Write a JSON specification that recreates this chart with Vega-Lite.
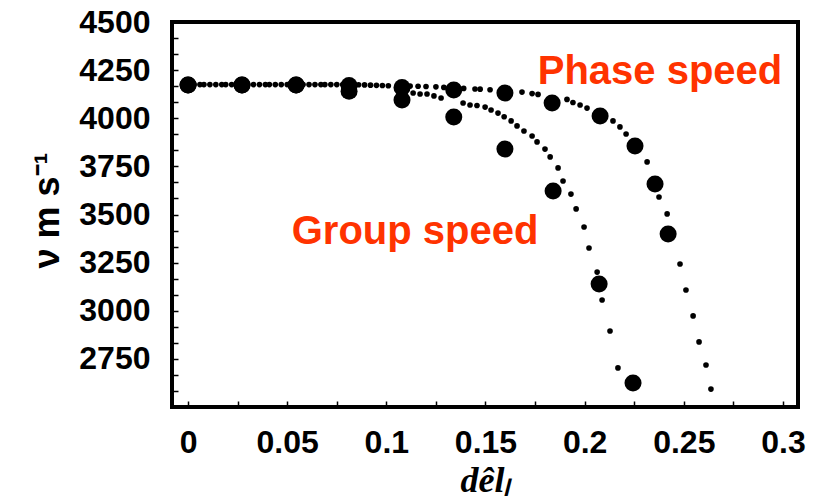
{
  "$schema": "https://vega.github.io/schema/vega-lite/v6.json",
  "width": 626,
  "height": 385,
  "autosize": "none",
  "padding": {"left": 172, "top": 22, "right": 20, "bottom": 97},
  "background": "white",
  "config": {
    "view": {"stroke": "black", "strokeWidth": 4},
    "axis": {"domain": false, "grid": false, "labelFont": "Liberation Sans", "labelFontWeight": "bold", "labelFontSize": 32, "labelColor": "black", "labelOverlap": false, "labelBound": false, "tickColor": "black", "tickWidth": 1.5, "tickSize": -6, "titleColor": "black"}
  },
  "datasets": {
    "points": [
      {"series": "Phase speed", "kind": "simulation", "x": 0.0, "v": 4173},
      {"series": "Phase speed", "kind": "simulation", "x": 0.0272, "v": 4173},
      {"series": "Phase speed", "kind": "simulation", "x": 0.0545, "v": 4173},
      {"series": "Phase speed", "kind": "simulation", "x": 0.0812, "v": 4170},
      {"series": "Phase speed", "kind": "simulation", "x": 0.1079, "v": 4160},
      {"series": "Phase speed", "kind": "simulation", "x": 0.134, "v": 4147},
      {"series": "Phase speed", "kind": "simulation", "x": 0.1598, "v": 4131},
      {"series": "Phase speed", "kind": "simulation", "x": 0.1836, "v": 4079},
      {"series": "Phase speed", "kind": "simulation", "x": 0.2078, "v": 4012},
      {"series": "Phase speed", "kind": "simulation", "x": 0.2254, "v": 3856},
      {"series": "Phase speed", "kind": "simulation", "x": 0.2355, "v": 3658},
      {"series": "Phase speed", "kind": "simulation", "x": 0.2421, "v": 3399},
      {"series": "Group speed", "kind": "simulation", "x": 0.0, "v": 4173},
      {"series": "Group speed", "kind": "simulation", "x": 0.0272, "v": 4173},
      {"series": "Group speed", "kind": "simulation", "x": 0.0545, "v": 4173},
      {"series": "Group speed", "kind": "simulation", "x": 0.0812, "v": 4140},
      {"series": "Group speed", "kind": "simulation", "x": 0.1079, "v": 4095},
      {"series": "Group speed", "kind": "simulation", "x": 0.134, "v": 4006},
      {"series": "Group speed", "kind": "simulation", "x": 0.1598, "v": 3840},
      {"series": "Group speed", "kind": "simulation", "x": 0.1841, "v": 3622},
      {"series": "Group speed", "kind": "simulation", "x": 0.2073, "v": 3139},
      {"series": "Group speed", "kind": "simulation", "x": 0.2244, "v": 2625},
      {"series": "Phase speed", "kind": "theory", "x": 0.003, "v": 4175},
      {"series": "Phase speed", "kind": "theory", "x": 0.006, "v": 4175},
      {"series": "Phase speed", "kind": "theory", "x": 0.008, "v": 4175},
      {"series": "Phase speed", "kind": "theory", "x": 0.011, "v": 4175},
      {"series": "Phase speed", "kind": "theory", "x": 0.014, "v": 4175},
      {"series": "Phase speed", "kind": "theory", "x": 0.017, "v": 4175},
      {"series": "Phase speed", "kind": "theory", "x": 0.019, "v": 4175},
      {"series": "Phase speed", "kind": "theory", "x": 0.022, "v": 4175},
      {"series": "Phase speed", "kind": "theory", "x": 0.025, "v": 4175},
      {"series": "Phase speed", "kind": "theory", "x": 0.030, "v": 4175},
      {"series": "Phase speed", "kind": "theory", "x": 0.033, "v": 4175},
      {"series": "Phase speed", "kind": "theory", "x": 0.036, "v": 4175},
      {"series": "Phase speed", "kind": "theory", "x": 0.039, "v": 4175},
      {"series": "Phase speed", "kind": "theory", "x": 0.041, "v": 4175},
      {"series": "Phase speed", "kind": "theory", "x": 0.044, "v": 4175},
      {"series": "Phase speed", "kind": "theory", "x": 0.047, "v": 4175},
      {"series": "Phase speed", "kind": "theory", "x": 0.050, "v": 4175},
      {"series": "Phase speed", "kind": "theory", "x": 0.058, "v": 4175},
      {"series": "Phase speed", "kind": "theory", "x": 0.061, "v": 4175},
      {"series": "Phase speed", "kind": "theory", "x": 0.064, "v": 4175},
      {"series": "Phase speed", "kind": "theory", "x": 0.067, "v": 4175},
      {"series": "Phase speed", "kind": "theory", "x": 0.069, "v": 4175},
      {"series": "Phase speed", "kind": "theory", "x": 0.072, "v": 4175},
      {"series": "Phase speed", "kind": "theory", "x": 0.075, "v": 4175},
      {"series": "Phase speed", "kind": "theory", "x": 0.078, "v": 4175},
      {"series": "Phase speed", "kind": "theory", "x": 0.084, "v": 4174},
      {"series": "Phase speed", "kind": "theory", "x": 0.086, "v": 4174},
      {"series": "Phase speed", "kind": "theory", "x": 0.089, "v": 4173},
      {"series": "Phase speed", "kind": "theory", "x": 0.092, "v": 4172},
      {"series": "Phase speed", "kind": "theory", "x": 0.095, "v": 4171},
      {"series": "Phase speed", "kind": "theory", "x": 0.098, "v": 4170},
      {"series": "Phase speed", "kind": "theory", "x": 0.101, "v": 4169},
      {"series": "Phase speed", "kind": "theory", "x": 0.112, "v": 4167},
      {"series": "Phase speed", "kind": "theory", "x": 0.116, "v": 4166},
      {"series": "Phase speed", "kind": "theory", "x": 0.120, "v": 4165},
      {"series": "Phase speed", "kind": "theory", "x": 0.125, "v": 4163},
      {"series": "Phase speed", "kind": "theory", "x": 0.129, "v": 4160},
      {"series": "Phase speed", "kind": "theory", "x": 0.139, "v": 4155},
      {"series": "Phase speed", "kind": "theory", "x": 0.1447, "v": 4152},
      {"series": "Phase speed", "kind": "theory", "x": 0.1473, "v": 4151},
      {"series": "Phase speed", "kind": "theory", "x": 0.1523, "v": 4148},
      {"series": "Phase speed", "kind": "theory", "x": 0.1684, "v": 4136},
      {"series": "Phase speed", "kind": "theory", "x": 0.1735, "v": 4128},
      {"series": "Phase speed", "kind": "theory", "x": 0.1765, "v": 4124},
      {"series": "Phase speed", "kind": "theory", "x": 0.1911, "v": 4098},
      {"series": "Phase speed", "kind": "theory", "x": 0.1941, "v": 4082},
      {"series": "Phase speed", "kind": "theory", "x": 0.1977, "v": 4069},
      {"series": "Phase speed", "kind": "theory", "x": 0.2012, "v": 4053},
      {"series": "Phase speed", "kind": "theory", "x": 0.2143, "v": 3986},
      {"series": "Phase speed", "kind": "theory", "x": 0.2178, "v": 3955},
      {"series": "Phase speed", "kind": "theory", "x": 0.2209, "v": 3918},
      {"series": "Phase speed", "kind": "theory", "x": 0.2315, "v": 3773},
      {"series": "Phase speed", "kind": "theory", "x": 0.2375, "v": 3591},
      {"series": "Phase speed", "kind": "theory", "x": 0.2416, "v": 3503},
      {"series": "Phase speed", "kind": "theory", "x": 0.2481, "v": 3243},
      {"series": "Phase speed", "kind": "theory", "x": 0.2511, "v": 3108},
      {"series": "Phase speed", "kind": "theory", "x": 0.2547, "v": 2973},
      {"series": "Phase speed", "kind": "theory", "x": 0.2577, "v": 2838},
      {"series": "Phase speed", "kind": "theory", "x": 0.2612, "v": 2718},
      {"series": "Phase speed", "kind": "theory", "x": 0.2637, "v": 2593},
      {"series": "Group speed", "kind": "theory", "x": 0.1135, "v": 4131},
      {"series": "Group speed", "kind": "theory", "x": 0.117, "v": 4126},
      {"series": "Group speed", "kind": "theory", "x": 0.1205, "v": 4126},
      {"series": "Group speed", "kind": "theory", "x": 0.124, "v": 4116},
      {"series": "Group speed", "kind": "theory", "x": 0.1276, "v": 4105},
      {"series": "Group speed", "kind": "theory", "x": 0.1387, "v": 4079},
      {"series": "Group speed", "kind": "theory", "x": 0.1422, "v": 4069},
      {"series": "Group speed", "kind": "theory", "x": 0.1457, "v": 4066},
      {"series": "Group speed", "kind": "theory", "x": 0.1498, "v": 4058},
      {"series": "Group speed", "kind": "theory", "x": 0.1528, "v": 4043},
      {"series": "Group speed", "kind": "theory", "x": 0.1563, "v": 4027},
      {"series": "Group speed", "kind": "theory", "x": 0.1594, "v": 4008},
      {"series": "Group speed", "kind": "theory", "x": 0.1629, "v": 3986},
      {"series": "Group speed", "kind": "theory", "x": 0.1659, "v": 3960},
      {"series": "Group speed", "kind": "theory", "x": 0.1694, "v": 3934},
      {"series": "Group speed", "kind": "theory", "x": 0.1735, "v": 3908},
      {"series": "Group speed", "kind": "theory", "x": 0.176, "v": 3877},
      {"series": "Group speed", "kind": "theory", "x": 0.18, "v": 3840},
      {"series": "Group speed", "kind": "theory", "x": 0.1826, "v": 3799},
      {"series": "Group speed", "kind": "theory", "x": 0.1866, "v": 3742},
      {"series": "Group speed", "kind": "theory", "x": 0.1891, "v": 3674},
      {"series": "Group speed", "kind": "theory", "x": 0.1931, "v": 3606},
      {"series": "Group speed", "kind": "theory", "x": 0.1957, "v": 3529},
      {"series": "Group speed", "kind": "theory", "x": 0.1997, "v": 3435},
      {"series": "Group speed", "kind": "theory", "x": 0.2022, "v": 3326},
      {"series": "Group speed", "kind": "theory", "x": 0.2063, "v": 3201},
      {"series": "Group speed", "kind": "theory", "x": 0.2088, "v": 3056},
      {"series": "Group speed", "kind": "theory", "x": 0.2128, "v": 2895},
      {"series": "Group speed", "kind": "theory", "x": 0.2168, "v": 2703}
    ],
    "labels": [
      {"label": "Phase speed", "x": 0.238, "v": 4240},
      {"label": "Group speed", "x": 0.1145, "v": 3409}
    ]
  },
  "layer": [
    {
      "data": {"name": "points"},
      "mark": {"type": "circle", "color": "black", "opacity": 1},
      "encoding": {
        "x": {
          "field": "x", "type": "quantitative",
          "scale": {"domain": [-0.0081, 0.3076], "nice": false, "zero": false},
          "axis": {
            "values": [0, 0.025, 0.05, 0.075, 0.1, 0.125, 0.15, 0.175, 0.2, 0.225, 0.25, 0.275, 0.3],
            "tickCount": 50,
            "labelExpr": "abs(datum.value*20 - round(datum.value*20)) < 0.001 ? format(datum.value, '~g') : ''",
            "labelPadding": 26,
            "labelFlush": false,
            "title": "dêlₗ",
            "titleFont": "Liberation Serif",
            "titleFontStyle": "italic",
            "titleFontWeight": "bold",
            "titleFontSize": 36,
            "titleX": 313,
            "titleY": 73,
            "titleBaseline": "middle",
            "titleAlign": "center"
          }
        },
        "y": {
          "field": "v", "type": "quantitative",
          "scale": {"domain": [2500, 4500], "nice": false, "zero": false},
          "axis": {
            "values": [2500, 2583.33, 2666.67, 2750, 2833.33, 2916.67, 3000, 3083.33, 3166.67, 3250, 3333.33, 3416.67, 3500, 3583.33, 3666.67, 3750, 3833.33, 3916.67, 4000, 4083.33, 4166.67, 4250, 4333.33, 4416.67, 4500],
            "tickCount": 50,
            "labelExpr": "(datum.value % 250 == 0 && datum.value >= 2750) ? format(datum.value, 'd') : ''",
            "labelPadding": 28,
            "labelFlush": false,
            "title": "ν  m s⁻¹",
            "titleFont": "Liberation Sans",
            "titleFontWeight": "bold",
            "titleFontSize": 36,
            "titleAngle": -90,
            "titleX": -125,
            "titleY": 188,
            "titleAlign": "center",
            "titleBaseline": "middle"
          }
        },
        "size": {
          "field": "kind", "type": "nominal",
          "scale": {"domain": ["theory", "simulation"], "range": [32, 290]},
          "legend": null
        }
      }
    },
    {
      "data": {"name": "labels"},
      "mark": {"type": "text", "font": "Liberation Sans", "fontWeight": "bold", "fontSize": 40, "color": "#ff3300", "align": "center", "baseline": "middle"},
      "encoding": {
        "x": {"field": "x", "type": "quantitative"},
        "y": {"field": "v", "type": "quantitative"},
        "text": {"field": "label"}
      }
    }
  ]
}
